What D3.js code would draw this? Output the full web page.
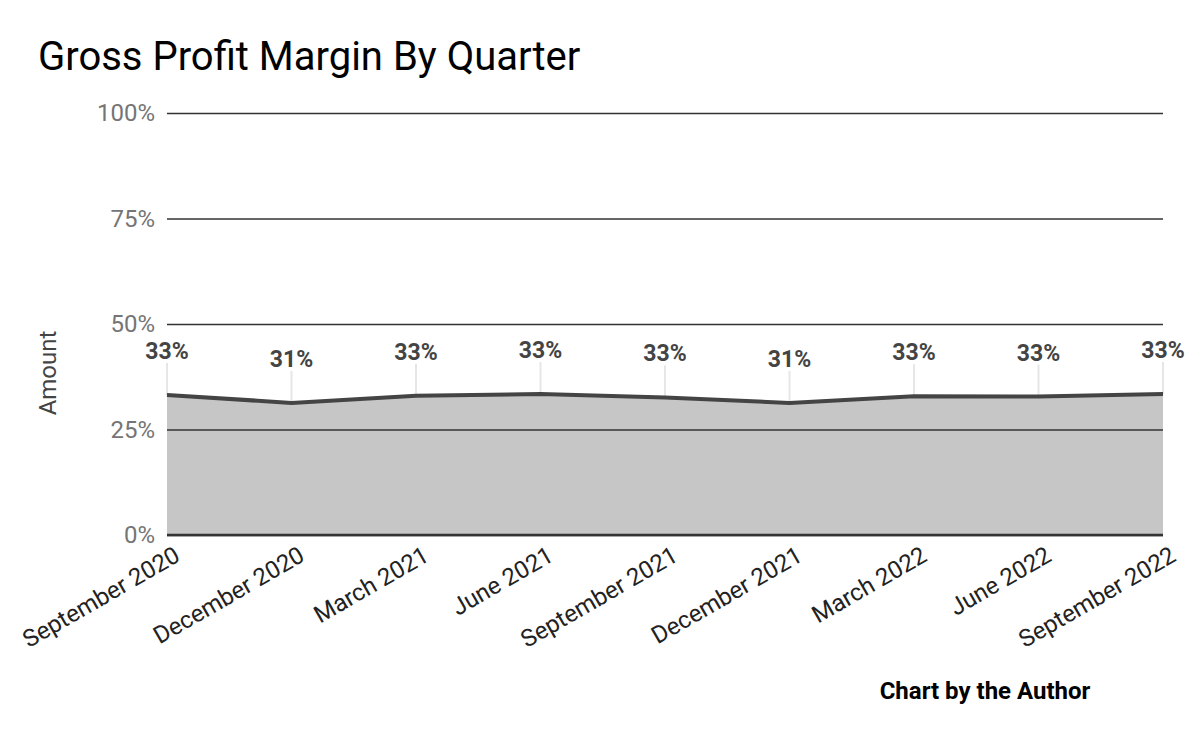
<!DOCTYPE html>
<html>
<head>
<meta charset="utf-8">
<script src="https://cdn.jsdelivr.net/npm/d3@7"></script>
<style>
body { margin: 0; background: #fff; }
text { font-family: Roboto, "Noto Sans", sans-serif; }
</style>
</head>
<body>
<div id="chart"></div>
<script>
// quarters and gross margin (%)
const quarters = ["September 2020", "December 2020", "March 2021", "June 2021", "September 2021",
                  "December 2021", "March 2022", "June 2022", "September 2022"];
const margin = [33.2, 31.3, 33.0, 33.4, 32.6, 31.3, 32.9, 32.8, 33.4];
const yTicks = [0, 25, 50, 75, 100];

const W = 1200, H = 742;
const m = {left: 167, right: 37, top: 113, bottom: 207};

var svg = d3.select("#chart")
            .append("svg")
            .attr("width", W)
            .attr("height", H);

const x = d3.scalePoint().domain(quarters).range([m.left, W - m.right]);
const y = d3.scaleLinear().domain([0, 100]).range([H - m.bottom, m.top]);

// title
svg.append("text")
    .attr("x", 38).attr("y", 70)
    .attr("font-size", 40)
    .attr("fill", "#000")
    .text("Gross Profit Margin By Quarter");

// area + line
const pts = quarters.map((q, i) => [q, margin[i]]);
svg.append("path")
    .datum(pts)
    .attr("fill", "#c6c6c6")
    .attr("d", d3.area().x(d => x(d[0])).y0(y(0)).y1(d => y(d[1])));

// horizontal grid
const yAxis = svg.append("g")
    .attr("transform", `translate(${m.left},0)`)
    .call(d3.axisLeft(y).tickValues(yTicks).tickSize(-(W - m.left - m.right)).tickFormat(d => d + "%"));
yAxis.select(".domain").remove();
yAxis.selectAll("line").attr("stroke", "#333").attr("stroke-width", 1.6);
yAxis.selectAll("text")
    .attr("x", -12)
    .attr("font-size", 24)
    .attr("fill", "#757575")
    .attr("font-family", "Roboto");

// leader lines from labels to points
svg.append("g").selectAll("line")
    .data(pts)
    .join("line")
    .attr("x1", d => x(d[0])).attr("x2", d => x(d[0]))
    .attr("y1", d => y(d[1]) - 32).attr("y2", d => y(d[1]))
    .attr("stroke", "#e6e6e6").attr("stroke-width", 2);

svg.append("path")
    .datum(pts)
    .attr("fill", "none")
    .attr("stroke", "#444")
    .attr("stroke-width", 4)
    .attr("d", d3.line().x(d => x(d[0])).y(d => y(d[1])));

// bottom baseline
svg.append("line")
    .attr("x1", m.left).attr("x2", W - m.right)
    .attr("y1", y(0)).attr("y2", y(0))
    .attr("stroke", "#333").attr("stroke-width", 2.5);

// data labels
svg.append("g").selectAll("text")
    .data(pts)
    .join("text")
    .attr("x", d => x(d[0]))
    .attr("y", d => y(d[1]) - 36)
    .attr("text-anchor", "middle")
    .attr("font-size", 23)
    .attr("font-weight", "bold")
    .attr("fill", "#444")
    .text(d => Math.round(d[1]) + "%");

// x axis labels
const xAxis = svg.append("g")
    .attr("transform", `translate(0,${y(0)})`)
    .call(d3.axisBottom(x).tickSize(0));
xAxis.select(".domain").remove();
xAxis.selectAll("text")
    .attr("font-size", 24)
    .attr("fill", "#222")
    .attr("font-family", "Roboto")
    .attr("text-anchor", "end")
    .attr("dy", 0)
    .attr("y", 0)
    .attr("transform", "translate(14,25) rotate(-30)");

// y axis title
svg.append("text")
    .attr("transform", "translate(56,373) rotate(-90)")
    .attr("text-anchor", "middle")
    .attr("font-size", 24)
    .attr("fill", "#444")
    .text("Amount");

// footer
svg.append("text")
    .attr("x", 985).attr("y", 699)
    .attr("text-anchor", "middle")
    .attr("font-size", 24)
    .attr("font-weight", "bold")
    .attr("fill", "#000")
    .text("Chart by the Author");
</script>
</body>
</html>
